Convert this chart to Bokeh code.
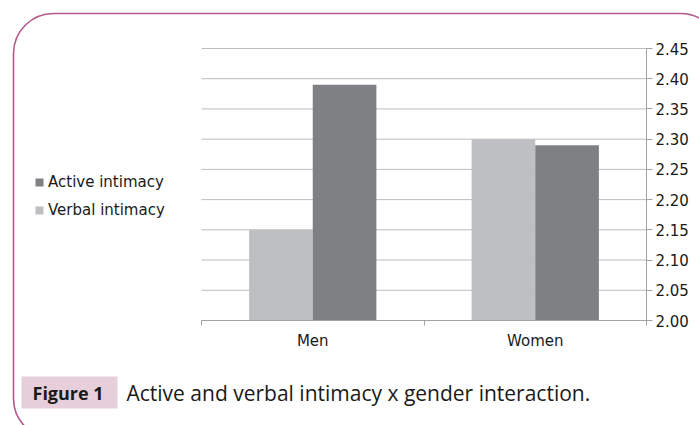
from bokeh.plotting import figure
from bokeh.models import (FixedTicker, Range1d, Legend, LegendItem, Label,
                          BoxAnnotation, ColumnDataSource, PrintfTickFormatter)
from bokeh.transform import dodge
from bokeh.embed import file_html
from bokeh.resources import INLINE

# ---- data ----
categories = ["Men", "Women"]
verbal = [2.15, 2.30]
active = [2.39, 2.29]
y_ticks = [2.00, 2.05, 2.10, 2.15, 2.20, 2.25, 2.30, 2.35, 2.40, 2.45]
series_names = ["Verbal intimacy", "Active intimacy"]
caption_tag = "Figure 1"
caption_text = "Active and verbal intimacy x gender interaction."

LIGHT = "#bebfc3"
DARK = "#7f8083"
GRID = "#bdbdbd"
AXIS = "#a3a3a3"
PINK_LINE = "#b4588c"
PINK_BG = "#e7cedb"
TXT = "#1a1a1a"

W, H = 699, 425
# plot area in canvas pixels (left, right, top, bottom)
PL, PR, PT, PB = 201, 646, 48, 320

y0, y1 = y_ticks[0], y_ticks[-1]
n = len(categories)
ppu_y = (PB - PT) / (y1 - y0)
ppu_x = (PR - PL) / n
y_range = Range1d(y0 - (H - PB) / ppu_y, y1 + PT / ppu_y)
x_range = Range1d(-PL / ppu_x, n + (W - PR) / ppu_x)

p = figure(width=W, height=H, output_backend="svg", toolbar_location=None,
           x_range=x_range, y_range=y_range, y_axis_location="right",
           min_border=0)
p.outline_line_color = None
p.background_fill_color = "white"
p.border_fill_color = "white"
p.xgrid.visible = False
p.ygrid.visible = False

x_pos = [i + 0.5 for i in range(n)]
src = ColumnDataSource(dict(x=x_pos, verbal=verbal, active=active))

# horizontal gridlines across the plot area
p.segment(x0=0, x1=n, y0=y_ticks, y1=y_ticks, line_color=GRID, line_width=1)

bw = 0.286
r_verbal = p.vbar(x=dodge("x", -bw / 2), top="verbal", bottom=y0, width=bw,
                  source=src, fill_color=LIGHT, line_color=None)
r_active = p.vbar(x=dodge("x", bw / 2), top="active", bottom=y0, width=bw,
                  source=src, fill_color=DARK, line_color=None)

# y axis (right), placed at the right edge of the plot area
ya = p.yaxis[0]
ya.fixed_location = n
ya.bounds = (y0, y1)
ya.ticker = FixedTicker(ticks=y_ticks)
ya.formatter = PrintfTickFormatter(format="%.2f")
ya.axis_line_color = AXIS
ya.major_tick_line_color = AXIS
ya.major_tick_out = 6
ya.major_tick_in = 0
ya.minor_tick_line_color = None
ya.major_label_text_font = "DejaVu Sans"
ya.major_label_text_font_size = "15px"
ya.major_label_text_color = TXT
ya.major_label_standoff = 3

# x axis (bottom)
xa = p.xaxis[0]
xa.fixed_location = y0
xa.bounds = (0, n)
xa.ticker = FixedTicker(ticks=x_pos, minor_ticks=list(range(n + 1)))
xa.major_label_overrides = {x_pos[i]: categories[i] for i in range(n)}
xa.axis_line_color = AXIS
xa.major_tick_out = 0
xa.major_tick_in = 0
xa.minor_tick_line_color = AXIS
xa.minor_tick_out = 5
xa.minor_tick_in = 0
xa.major_label_text_font = "DejaVu Sans"
xa.major_label_text_font_size = "15px"
xa.major_label_text_color = TXT
xa.major_label_standoff = 6

# legend on the left
legend = Legend(items=[LegendItem(label=series_names[1], renderers=[r_active]),
                       LegendItem(label=series_names[0], renderers=[r_verbal])],
                location=(34, H - 220), orientation="vertical",
                glyph_width=10, glyph_height=10, label_height=20, spacing=8,
                label_standoff=4, padding=0, margin=0,
                border_line_color=None, background_fill_alpha=0,
                label_text_font="DejaVu Sans", label_text_font_size="15px",
                label_text_color=TXT)
p.add_layout(legend)

def sy(py):
    return H - py

frame = BoxAnnotation(left=13, right=720, top=sy(13), bottom=sy(438),
                      left_units="screen", right_units="screen",
                      top_units="screen", bottom_units="screen",
                      fill_alpha=0, line_color=PINK_LINE, line_alpha=1, line_width=1.6,
                      border_radius=40)
p.add_layout(frame)

tag_bg = BoxAnnotation(left=21, right=117, top=sy(376), bottom=sy(408),
                       left_units="screen", right_units="screen",
                       top_units="screen", bottom_units="screen",
                       fill_color=PINK_BG, fill_alpha=1, line_color=None, line_alpha=0)
p.add_layout(tag_bg)

p.add_layout(Label(x=32, y=sy(392), x_units="screen", y_units="screen", text=caption_tag,
                   text_font="Open Sans", text_font_style="bold", text_font_size="18px",
                   text_color=TXT, text_baseline="middle"))
p.add_layout(Label(x=126, y=sy(392), x_units="screen", y_units="screen", text=caption_text,
                   text_font="Open Sans", text_font_size="21px",
                   text_color=TXT, text_baseline="middle"))

open("out.html", "w").write(file_html(p, INLINE))
